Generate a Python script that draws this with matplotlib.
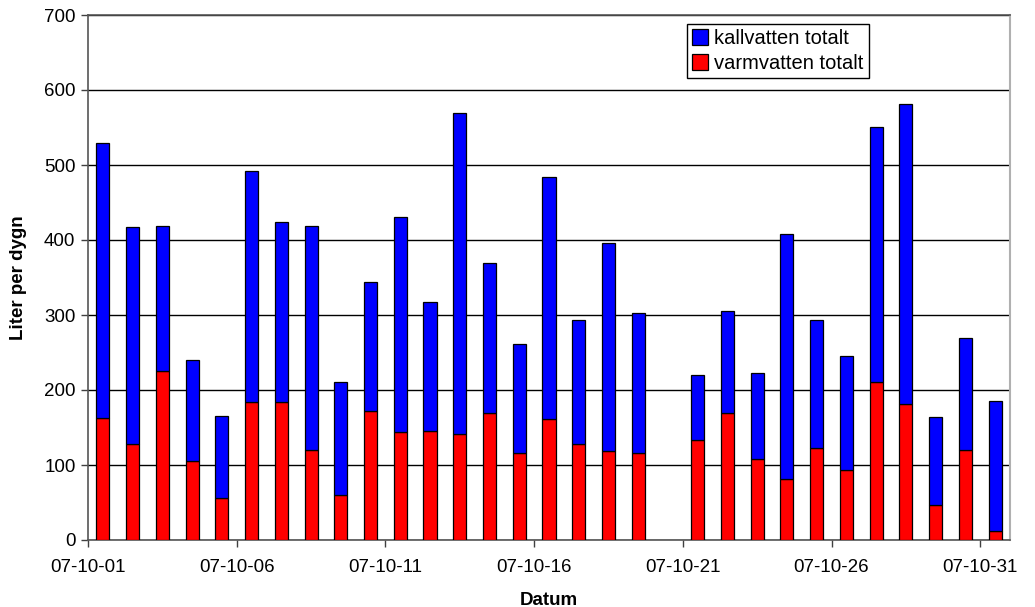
import numpy as np
import matplotlib
matplotlib.use('Agg')
import matplotlib.pyplot as plt
import matplotlib.dates as mdates
from datetime import datetime, timedelta

plt.rcParams['font.family'] = ['Liberation Sans', 'DejaVu Sans']

# Day of October 2007 (day 20 has no data)
days = list(range(1, 32))
varmvatten = [163, 128, 226, 105, 56, 184, 184, 120, 60, 172, 144, 145, 142, 170, 116, 161,
              128, 119, 116, np.nan, 134, 170, 108, 81, 123, 93, 211, 181, 47, 120, 12]
kallvatten = [366, 289, 193, 135, 109, 308, 240, 299, 151, 172, 287, 172, 428, 200, 146, 323,
              165, 277, 187, np.nan, 86, 135, 115, 327, 170, 152, 340, 401, 117, 149, 174]
tick_days = [1, 6, 11, 16, 21, 26, 31]

warm = np.array(varmvatten, dtype=float)
cold = np.array(kallvatten, dtype=float)
ok = ~np.isnan(warm)

# bars sit in the middle of each day
x = np.array([mdates.date2num(datetime(2007, 10, d) + timedelta(hours=12)) for d in days])

fig = plt.figure(figsize=(10.35, 6.07), dpi=100)
ax = fig.add_axes([88 / 1035, 1 - 540 / 607, (1010 - 88) / 1035, (540 - 15) / 607])

ax.bar(x[ok], warm[ok], width=0.44, color='#ff0000', edgecolor='black', linewidth=0.9,
       label='varmvatten totalt', zorder=3)
ax.bar(x[ok], cold[ok], bottom=warm[ok], width=0.44, color='#0000ff', edgecolor='black',
       linewidth=0.9, label='kallvatten totalt', zorder=3)

ax.set_ylim(0, 700)
ax.set_yticks(range(0, 701, 100))
ax.yaxis.grid(True, color='black', linewidth=1.0, zorder=0)

ax.set_xlim(mdates.date2num(datetime(2007, 10, 1)), mdates.date2num(datetime(2007, 11, 1)))
ax.set_xticks([mdates.date2num(datetime(2007, 10, d)) for d in tick_days])
ax.xaxis.set_major_formatter(mdates.DateFormatter('%y-%m-%d'))

ax.tick_params(axis='both', labelsize=13.5, length=5, width=1, color='#404040', pad=4)
ax.tick_params(axis='x', pad=9)

for side in ['left', 'bottom', 'top']:
    ax.spines[side].set_color('#555555')
    ax.spines[side].set_linewidth(1.2)
ax.spines['right'].set_color('#b0b0b0')
ax.spines['right'].set_linewidth(1.5)

ax.set_xlabel('Datum', fontsize=13.5, fontweight='bold', labelpad=11)
ax.set_ylabel('Liter per dygn', fontsize=13.5, fontweight='bold', labelpad=12)

# legend: kallvatten first
handles, labels = ax.get_legend_handles_labels()
leg = fig.legend(handles[::-1], labels[::-1], loc='upper left',
                 bbox_to_anchor=(687 / 1035, 1 - 24 / 607), fontsize=14.5,
                 frameon=True, fancybox=False, edgecolor='black', framealpha=1,
                 handlelength=0.8, handleheight=0.8, handletextpad=0.3,
                 borderpad=0.25, borderaxespad=0, labelspacing=0.3)
leg.get_frame().set_linewidth(1.0)

fig.savefig('out.png', dpi=100)
